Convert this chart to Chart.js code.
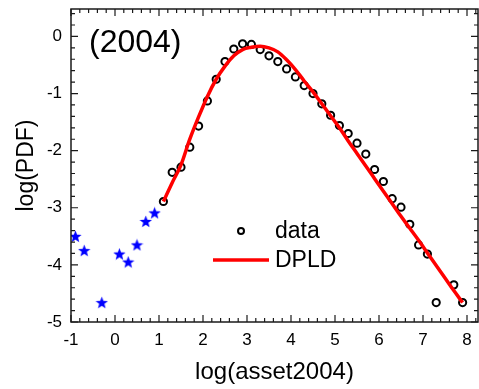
<!DOCTYPE html>
<html>
<head>
<meta charset="utf-8">
<script src="https://cdn.jsdelivr.net/npm/chart.js@4.4.1/dist/chart.umd.min.js"></script>
<style>
  html, body { margin: 0; padding: 0; background: #fff; }
  #plot { display: block; }
</style>
</head>
<body>
<canvas id="plot" width="479" height="389"></canvas>
<script>
// measured distribution (open circles)
const dataX = [1.1, 1.3, 1.5, 1.7, 1.9, 2.1, 2.3, 2.5, 2.7, 2.9, 3.1, 3.3, 3.5, 3.7, 3.9, 4.1, 4.3,
  4.5, 4.7, 4.9, 5.1, 5.3, 5.5, 5.7, 5.9, 6.1, 6.3, 6.5, 6.7, 6.9, 7.1, 7.3, 7.7, 7.9];
const dataY = [-2.89, -2.38, -2.29, -1.94, -1.57, -1.13, -0.75, -0.44, -0.22, -0.13, -0.14, -0.23,
  -0.34, -0.44, -0.57, -0.71, -0.86, -1.00, -1.18, -1.38, -1.56, -1.70, -1.87, -2.06, -2.33,
  -2.54, -2.84, -2.99, -3.29, -3.65, -3.81, -4.66, -4.35, -4.66];

// low-asset tail (blue stars)
const starX = [-0.9, -0.7, -0.3, 0.1, 0.3, 0.5, 0.7, 0.9];
const starY = [-3.50, -3.75, -4.66, -3.81, -3.95, -3.65, -3.24, -3.09];

// DPLD fit
const fitX = [1.1, 1.3, 1.5, 1.7, 1.9, 2.1, 2.3, 2.5, 2.7, 2.9, 3.1, 3.3, 3.5, 3.7, 3.9, 4.1, 4.3,
  4.5, 4.7, 4.9, 5.1, 5.3, 5.5, 5.7, 5.9, 6.1, 6.3, 6.5, 6.7, 6.9, 7.1, 7.3, 7.5, 7.7, 7.9];
const fitY = [-2.89, -2.56, -2.25, -1.80, -1.41, -1.05, -0.75, -0.52, -0.34, -0.23, -0.19, -0.17,
  -0.20, -0.27, -0.41, -0.58, -0.78, -0.97, -1.18, -1.39, -1.60, -1.83, -2.05, -2.27, -2.49,
  -2.71, -2.93, -3.15, -3.36, -3.57, -3.79, -4.01, -4.23, -4.45, -4.66];

const xTicks = [-1, 0, 1, 2, 3, 4, 5, 6, 7, 8];
const yTicks = [-5, -4, -3, -2, -1, 0];

const FONT = "'Liberation Sans', Arial, sans-serif";
const toPoints = (xs, ys) => xs.map((x, i) => ({ x: x, y: ys[i] }));

// filled five-point star, drawn once and reused as pointStyle
function makeStar(size, color) {
    const c = document.createElement("canvas");
    c.width = size;
    c.height = size;
    const g = c.getContext("2d");
    const cx = size / 2, cy = size / 2 + 0.5;
    const ro = size / 2, ri = ro * 0.42;
    g.beginPath();
    for (let i = 0; i < 10; i++) {
        const r = i % 2 === 0 ? ro : ri;
        const a = -Math.PI / 2 + i * Math.PI / 5;
        const px = cx + r * Math.cos(a), py = cy + r * Math.sin(a);
        if (i === 0) g.moveTo(px, py); else g.lineTo(px, py);
    }
    g.closePath();
    g.fillStyle = color;
    g.fill();
    return c;
}
const starImg = makeStar(13, "#0000ff");

// frame with inward major / minor ticks on all four sides
const framePlugin = {
    id: "frame",
    afterDatasetsDraw(chart) {
        const { ctx, chartArea: a, scales } = chart;
        ctx.save();
        ctx.strokeStyle = "#1a1a1a";
        ctx.lineWidth = 1.5;
        ctx.strokeRect(a.left, a.top, a.right - a.left, a.bottom - a.top);
        ctx.lineWidth = 1.2;
        const steps = (s) => {
            const out = [];
            for (let i = Math.floor(s.min); i <= Math.ceil(s.max); i++) {
                for (let k = 0; k < 5; k++) {
                    const v = Math.round((i + k * 0.2) * 10) / 10;
                    if (v >= s.min - 1e-9 && v <= s.max + 1e-9) out.push({ v: v, major: k === 0 });
                }
            }
            return out;
        };
        ctx.beginPath();
        steps(scales.x).forEach((t) => {
            const px = scales.x.getPixelForValue(t.v);
            const len = t.major ? 7 : 4;
            ctx.moveTo(px, a.bottom); ctx.lineTo(px, a.bottom - len);
            ctx.moveTo(px, a.top); ctx.lineTo(px, a.top + len);
        });
        steps(scales.y).forEach((t) => {
            const py = scales.y.getPixelForValue(t.v);
            const len = t.major ? 7 : 4;
            ctx.moveTo(a.left, py); ctx.lineTo(a.left + len, py);
            ctx.moveTo(a.right, py); ctx.lineTo(a.right - len, py);
        });
        ctx.stroke();
        ctx.restore();
    },
};

// year label and in-plot legend
const notesPlugin = {
    id: "notes",
    afterDraw(chart) {
        const { ctx, chartArea: a } = chart;
        ctx.save();
        ctx.fillStyle = "#000";
        ctx.font = "32px " + FONT;
        ctx.textBaseline = "alphabetic";
        ctx.textAlign = "left";
        ctx.fillText("(2004)", a.left + 18, a.top + 43);

        const lx = a.left + 142, ly = a.top + 222;
        ctx.font = "23px " + FONT;
        ctx.textBaseline = "middle";
        ctx.lineWidth = 2;
        ctx.strokeStyle = "#000";
        ctx.beginPath();
        ctx.arc(lx + 28, ly, 3, 0, Math.PI * 2);
        ctx.stroke();
        ctx.fillText("data", lx + 62, ly + 1);

        ctx.strokeStyle = "#ff0000";
        ctx.lineWidth = 3.5;
        ctx.beginPath();
        ctx.moveTo(lx, ly + 29);
        ctx.lineTo(lx + 56, ly + 29);
        ctx.stroke();
        ctx.fillText("DPLD", lx + 62, ly + 30);
        ctx.restore();
    },
};

const ctx = document.getElementById("plot").getContext("2d");

new Chart(ctx, {
    type: "scatter",
    data: {
        datasets: [
            {
                label: "DPLD",
                data: toPoints(fitX, fitY),
                showLine: true,
                borderColor: "#ff0000",
                borderWidth: 3.5,
                pointRadius: 0,
                cubicInterpolationMode: "monotone",
                order: 0,
            },
            {
                label: "data",
                data: toPoints(dataX, dataY),
                pointStyle: "circle",
                pointRadius: 3.6,
                borderWidth: 2,
                borderColor: "#000",
                backgroundColor: "rgba(0,0,0,0)",
                order: 1,
            },
            {
                label: "tail",
                data: toPoints(starX, starY),
                pointStyle: starImg,
                order: 2,
            },
        ],
    },
    options: {
        responsive: false,
        devicePixelRatio: 1,
        animation: false,
        layout: { autoPadding: false, padding: { top: 9, right: 1, left: 0, bottom: 0 } },
        plugins: {
            legend: { display: false },
            tooltip: { enabled: false },
        },
        scales: {
            x: {
                type: "linear",
                min: -1,
                max: 8.25,
                grid: { display: false, drawTicks: false },
                border: { display: false },
                afterBuildTicks: (s) => { s.ticks = xTicks.map((v) => ({ value: v })); },
                afterFit: (s) => {
                    s.height = 67;
                    s.paddingLeft = 0;
                    s.paddingRight = 0;
                },
                ticks: {
                    color: "#000",
                    padding: 8,
                    font: { family: FONT, size: 17 },
                    callback: (v) => String(v),
                },
                title: {
                    display: true,
                    text: "log(asset2004)",
                    color: "#000",
                    font: { family: FONT, size: 24 },
                    padding: { top: 0, bottom: 2 },
                },
            },
            y: {
                type: "linear",
                min: -5,
                max: 0.48,
                grid: { display: false, drawTicks: false },
                border: { display: false },
                afterBuildTicks: (s) => { s.ticks = yTicks.map((v) => ({ value: v })); },
                afterFit: (s) => {
                    s.width = 71;
                    s.paddingTop = 0;
                    s.paddingBottom = 0;
                },
                ticks: {
                    color: "#000",
                    padding: 9,
                    font: { family: FONT, size: 17 },
                    callback: (v) => String(v),
                },
                title: {
                    display: true,
                    text: "log(PDF)",
                    color: "#000",
                    font: { family: FONT, size: 23 },
                    padding: { top: 13, bottom: 0 },
                },
            },
        },
    },
    plugins: [framePlugin, notesPlugin],
});
</script>
</body>
</html>
